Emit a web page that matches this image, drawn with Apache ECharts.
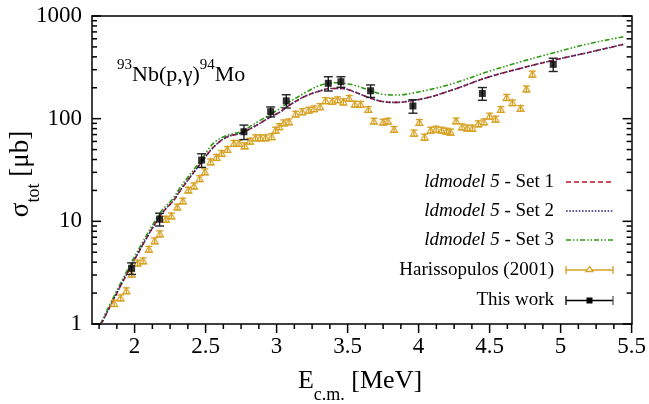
<!DOCTYPE html>
<html><head><meta charset="utf-8">
<script src="https://cdn.jsdelivr.net/npm/echarts@6/dist/echarts.min.js"></script>
<style>html,body{margin:0;padding:0;background:#fff}#c{width:649px;height:404px}</style>
</head><body><div id="c"></div>
<script>
// ---- data ----
const xTickLabels = [2, 2.5, 3, 3.5, 4, 4.5, 5, 5.5];
const xMinorTicks = [1.75, 1.875, 2.125, 2.25, 2.375, 2.625, 2.75, 2.875, 3.125, 3.25, 3.375, 3.625, 3.75, 3.875, 4.125, 4.25, 4.375, 4.625, 4.75, 4.875, 5.125, 5.25, 5.375];
const yTickLabels = [1, 10, 100, 1000];
const yMinorTicks = [2, 3, 4, 5, 6, 7, 8, 9, 20, 30, 40, 50, 60, 70, 80, 90, 200, 300, 400, 500, 600, 700, 800, 900];

const set1X = [1.765, 1.972, 2.183, 2.277, 2.324, 2.465, 2.558, 2.653, 2.746, 2.840, 2.958, 3.028, 3.075, 3.192, 3.310, 3.380, 3.463, 3.544, 3.662, 3.756, 3.850, 3.944, 4.085, 4.249, 4.484, 4.718, 4.953, 5.188, 5.442];
const set1Y = [1.0, 3.61, 11.5, 16.1, 20.2, 36.7, 53.2, 66.6, 71.9, 83.4, 104, 117, 131, 163, 187, 197, 197, 183, 158, 146, 144, 149, 163, 193, 252, 309, 372, 439, 529];
const set2X = [1.765, 1.972, 2.183, 2.277, 2.324, 2.465, 2.558, 2.653, 2.746, 2.840, 2.958, 3.028, 3.075, 3.192, 3.310, 3.380, 3.463, 3.544, 3.662, 3.756, 3.850, 3.944, 4.085, 4.249, 4.484, 4.718, 4.953, 5.188, 5.442];
const set2Y = [1.0, 3.61, 11.5, 16.1, 20.2, 36.7, 53.2, 66.6, 71.9, 83.4, 104, 117, 131, 163, 187, 197, 197, 183, 158, 146, 144, 149, 163, 193, 252, 309, 372, 439, 529];
const set3X = [1.758, 1.968, 2.180, 2.274, 2.320, 2.462, 2.556, 2.655, 2.746, 2.887, 3.005, 3.075, 3.192, 3.310, 3.427, 3.544, 3.662, 3.756, 3.850, 3.944, 4.085, 4.249, 4.484, 4.718, 4.953, 5.188, 5.442];
const set3Y = [1.0, 3.75, 12.1, 16.9, 21.3, 38.5, 57.8, 69.2, 74.5, 96.9, 121, 141, 176, 212, 224, 212, 187, 172, 170, 176, 193, 221, 286, 358, 439, 533, 627];

const harX = [1.856, 1.901, 1.942, 1.979, 2.021, 2.060, 2.101, 2.141, 2.178, 2.220, 2.259, 2.301, 2.340, 2.378, 2.418, 2.458, 2.495, 2.535, 2.577, 2.613, 2.653, 2.699, 2.735, 2.775, 2.812, 2.852, 2.887, 2.923, 2.965, 2.993, 3.018, 3.051, 3.087, 3.134, 3.181, 3.227, 3.263, 3.306, 3.345, 3.392, 3.430, 3.470, 3.511, 3.551, 3.592, 3.646, 3.685, 3.750, 3.784, 3.827, 3.967, 4.005, 4.042, 4.085, 4.123, 4.162, 4.197, 4.225, 4.264, 4.306, 4.342, 4.378, 4.420, 4.460, 4.500, 4.542, 4.579, 4.620, 4.661, 4.718, 4.759, 4.801];
const harY = [1.59, 1.80, 2.11, 3.07, 3.93, 4.13, 5.35, 6.47, 7.57, 10.5, 11.3, 13.8, 15.8, 20.2, 22.1, 26.1, 30.4, 38.0, 42.0, 45.9, 50.2, 57.5, 57.5, 54.5, 60.5, 65.2, 65.2, 65.2, 66.9, 77.4, 83.8, 91.2, 93.3, 111, 117, 121, 125, 131, 150, 148, 153, 146, 158, 139, 138, 123, 94.8, 92.7, 94.8, 78.7, 72.4, 92.0, 66.2, 77.4, 79.2, 77.4, 75.7, 74.1, 95.2, 83.4, 81.0, 81.0, 89.2, 93.3, 106, 99.1, 123, 161, 143, 126, 195, 272];
const harErr = [0.11, 0.12, 0.14, 0.2, 0.26, 0.27, 0.35, 0.42, 0.5, 0.7, 0.75, 0.9, 1.0, 1.3, 1.5, 1.7, 2.0, 2.5, 2.8, 3.0, 3.3, 3.8, 3.8, 3.6, 4.0, 4.3, 4.3, 4.3, 4.4, 5.1, 5.5, 6, 6.1, 7, 8, 8, 8, 9, 10, 10, 10, 10, 10, 9, 9, 8, 6, 6, 6, 5, 5, 6, 4.5, 5, 5, 5, 5, 5, 6, 5.5, 5.5, 5.5, 6, 6, 7, 6.5, 8, 11, 9, 8, 13, 18];

const workX = [1.979, 2.176, 2.472, 2.770, 2.958, 3.068, 3.364, 3.453, 3.662, 3.960, 4.449, 4.948];
const workY = [3.49, 10.5, 39.5, 74.6, 117, 149, 221, 229, 187, 133, 176, 338];
const workErr = [0.45, 1.5, 6, 12, 13, 22, 35, 27, 26, 20, 25, 50];

// ---- styling ----
const FONT = '"Liberation Serif", "DejaVu Serif", serif';
const C1 = '#c0141c', C2 = '#28287a', C3 = '#2e9a12', CH = '#d6a022', CK = '#000';
const X_MIN = 1.7, X_MAX = 5.5, Y_MIN = 1, Y_MAX = 1000;

const zip = (xs, ys) => xs.map((x, i) => [x, ys[i]]);
const errData = (xs, ys, es) => xs.map((x, i) => [x, ys[i] - es[i], ys[i] + es[i]]);

function errRender(halfW, color, width) {
  return function (params, api) {
    const x = api.value(0);
    const a = api.coord([x, api.value(1)]);
    const b = api.coord([x, api.value(2)]);
    const st = { stroke: color, lineWidth: width };
    return {
      type: 'group',
      children: [
        { type: 'line', shape: { x1: a[0], y1: a[1], x2: b[0], y2: b[1] }, style: st },
        { type: 'line', shape: { x1: a[0] - halfW, y1: a[1], x2: a[0] + halfW, y2: a[1] }, style: st },
        { type: 'line', shape: { x1: b[0] - halfW, y1: b[1], x2: b[0] + halfW, y2: b[1] }, style: st }
      ]
    };
  };
}
// axis ticks, placed through the chart's own scales
function xTickRender(len) {
  return function (params, api) {
    const p = api.coord([api.value(0), api.value(1)]);
    return { type: 'line', shape: { x1: p[0], y1: p[1], x2: p[0], y2: p[1] + len }, style: { stroke: '#000', lineWidth: 1.5 } };
  };
}
function yTickRender(len) {
  return function (params, api) {
    const pl = api.coord([X_MIN, api.value(1)]);
    const pr = api.coord([X_MAX, api.value(1)]);
    return {
      type: 'group', children: [
        { type: 'line', shape: { x1: pl[0], y1: pl[1], x2: pl[0] + len, y2: pl[1] }, style: { stroke: '#000', lineWidth: 1.5 } },
        { type: 'line', shape: { x1: pr[0], y1: pr[1], x2: pr[0] - len, y2: pr[1] }, style: { stroke: '#000', lineWidth: 1.5 } }
      ]
    };
  };
}

const axisLineStyle = { color: '#000', width: 1.5 };

const chart = echarts.init(document.getElementById('c'), null, { renderer: 'canvas' });

const legendRows = [
  { y: 182, label: 'Set 1', color: C1, dash: [5, 3] },
  { y: 211, label: 'Set 2', color: C2, dash: [1.6, 1.6] },
  { y: 240, label: 'Set 3', color: C3, dash: [5, 2, 1.5, 2, 1.5, 2] }
];
const LX1 = 566, LX2 = 613, LTX = 554;
const graphics = [];
legendRows.forEach(r => {
  graphics.push({
    type: 'text', x: LTX, y: r.y,
    style: {
      text: '{i|ldmodel 5}{n| - ' + r.label + '}',
      align: 'right', verticalAlign: 'middle',
      rich: { i: { fontFamily: FONT, fontStyle: 'italic', fontSize: 19, fill: '#000' }, n: { fontFamily: FONT, fontSize: 19, fill: '#000' } }
    }
  });
  graphics.push({ type: 'line', shape: { x1: LX1, y1: r.y, x2: LX2, y2: r.y }, style: { stroke: r.color, lineWidth: 1.6, lineDash: r.dash } });
});
graphics.push({ type: 'text', x: LTX, y: 270, style: { text: 'Harissopulos (2001)', align: 'right', verticalAlign: 'middle', font: '19px ' + FONT, fill: '#000' } });
graphics.push({ type: 'line', shape: { x1: LX1, y1: 270, x2: LX2, y2: 270 }, style: { stroke: CH, lineWidth: 1.3 } });
graphics.push({ type: 'line', shape: { x1: LX1, y1: 266, x2: LX1, y2: 274 }, style: { stroke: CH, lineWidth: 1.3 } });
graphics.push({ type: 'line', shape: { x1: LX2, y1: 266, x2: LX2, y2: 274 }, style: { stroke: CH, lineWidth: 1.3 } });
graphics.push({ type: 'polygon', shape: { points: [[589.5, 266.5], [586, 271.5], [593, 271.5]] }, style: { stroke: CH, fill: '#fff', lineWidth: 1.3 } });
graphics.push({ type: 'text', x: LTX, y: 300.5, style: { text: 'This work', align: 'right', verticalAlign: 'middle', font: '19px ' + FONT, fill: '#000' } });
graphics.push({ type: 'line', shape: { x1: LX1, y1: 300.5, x2: LX2, y2: 300.5 }, style: { stroke: CK, lineWidth: 1.3 } });
graphics.push({ type: 'line', shape: { x1: LX1, y1: 296, x2: LX1, y2: 305 }, style: { stroke: CK, lineWidth: 1.3 } });
graphics.push({ type: 'line', shape: { x1: LX2, y1: 296, x2: LX2, y2: 305 }, style: { stroke: '#555', lineWidth: 1.3 } });
graphics.push({ type: 'rect', shape: { x: 586.5, y: 297.5, width: 6, height: 6 }, style: { fill: CK } });
graphics.push({
  type: 'text', x: 117, y: 72,
  style: {
    text: '{s|93}{m|Nb(p,γ)}{s|94}{m|Mo}', align: 'left', verticalAlign: 'middle',
    rich: {
      s: { fontFamily: FONT, fontSize: 15, fill: '#000', verticalAlign: 'top', lineHeight: 28 },
      m: { fontFamily: FONT, fontSize: 22, fill: '#000', verticalAlign: 'bottom', lineHeight: 28 }
    }
  }
});
graphics.push({
  type: 'text', x: 360, y: 386,
  style: {
    text: '{m|E}{s|c.m.}{m| [MeV]}', align: 'center', verticalAlign: 'middle',
    rich: {
      m: { fontFamily: FONT, fontSize: 26, fill: '#000', verticalAlign: 'top', lineHeight: 36 },
      s: { fontFamily: FONT, fontSize: 18, fill: '#000', verticalAlign: 'bottom', lineHeight: 36 }
    }
  }
});
graphics.push({
  type: 'text', x: 25, y: 174, rotation: Math.PI / 2,
  style: {
    text: '{m|σ}{s|tot}{m| [μb]}', align: 'center', verticalAlign: 'middle',
    rich: {
      m: { fontFamily: FONT, fontSize: 27, fill: '#000', verticalAlign: 'top', lineHeight: 36 },
      s: { fontFamily: FONT, fontSize: 18, fill: '#000', verticalAlign: 'bottom', lineHeight: 36 }
    }
  }
});

const option = {
  animation: false,
  backgroundColor: '#fff',
  grid: { left: 92, right: 17, top: 16, bottom: 80 },
  xAxis: [{
    type: 'value', min: X_MIN, max: X_MAX, position: 'bottom', splitLine: { show: false },
    axisLine: { show: true, onZero: false, lineStyle: axisLineStyle },
    axisTick: { show: false },
    axisLabel: { show: true, customValues: xTickLabels, margin: 11, fontFamily: FONT, fontSize: 23, color: '#000' }
  }, {
    type: 'value', min: X_MIN, max: X_MAX, position: 'top', splitLine: { show: false },
    axisLine: { show: true, onZero: false, lineStyle: axisLineStyle },
    axisTick: { show: false }, axisLabel: { show: false }
  }],
  yAxis: [{
    type: 'log', logBase: 10, min: Y_MIN, max: Y_MAX, position: 'left', splitLine: { show: false },
    axisLine: { show: true, onZero: false, lineStyle: axisLineStyle },
    axisTick: { show: false },
    axisLabel: { show: true, customValues: yTickLabels, margin: 10, fontFamily: FONT, fontSize: 23, color: '#000', formatter: v => String(Math.round(v)) }
  }, {
    type: 'log', logBase: 10, min: Y_MIN, max: Y_MAX, position: 'right', splitLine: { show: false },
    axisLine: { show: true, onZero: false, lineStyle: axisLineStyle },
    axisTick: { show: false }, axisLabel: { show: false }
  }],
  series: [
    { type: 'custom', data: xTickLabels.map(v => [v, Y_MIN]), renderItem: xTickRender(9), z: 10 },
    { type: 'custom', data: xMinorTicks.map(v => [v, Y_MIN]), renderItem: xTickRender(5), z: 10 },
    { type: 'custom', data: yTickLabels.map(v => [X_MIN, v]), renderItem: yTickRender(9), z: 10 },
    { type: 'custom', data: yMinorTicks.map(v => [X_MIN, v]), renderItem: yTickRender(5), z: 10 },
    { name: 'Set 3', type: 'line', data: zip(set3X, set3Y), showSymbol: false, smooth: 0.35, lineStyle: { color: C3, width: 1.6, type: [5, 2, 1.5, 2, 1.5, 2] }, z: 3 },
    { name: 'Set 1', type: 'line', data: zip(set1X, set1Y), showSymbol: false, smooth: 0.35, lineStyle: { color: C1, width: 1.6, type: [5, 3] }, z: 3 },
    { name: 'Set 2', type: 'line', data: zip(set2X, set2Y), showSymbol: false, smooth: 0.35, lineStyle: { color: C2, width: 1.6, type: [1.6, 1.6] }, z: 4 },
    { name: 'HarErr', type: 'custom', data: errData(harX, harY, harErr), renderItem: errRender(3.5, CH, 1.3), z: 5 },
    { name: 'Harissopulos (2001)', type: 'scatter', data: zip(harX, harY), symbol: 'triangle', symbolSize: [7, 6], itemStyle: { color: 'rgba(255,255,255,0)', borderColor: CH, borderWidth: 1.4 }, z: 6 },
    { name: 'WorkErr', type: 'custom', data: errData(workX, workY, workErr), renderItem: errRender(4.5, '#222', 1.4), z: 7 },
    { name: 'This work', type: 'scatter', data: zip(workX, workY), symbol: 'rect', symbolSize: 7, itemStyle: { color: CK }, z: 8 }
  ],
  graphic: graphics
};
chart.setOption(option);
</script>
</body></html>
